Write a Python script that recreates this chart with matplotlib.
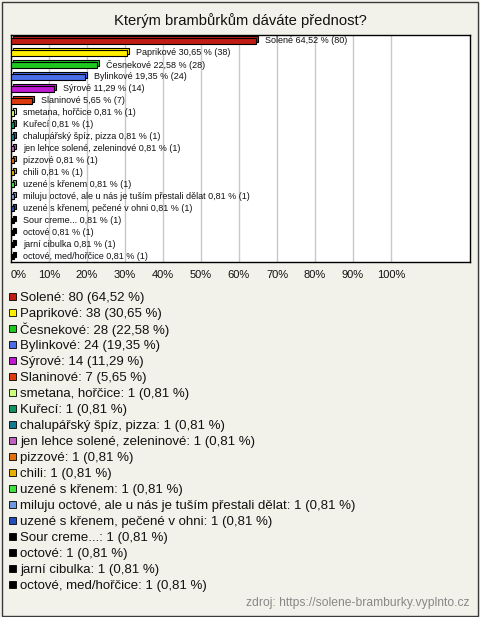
import matplotlib
matplotlib.use('Agg')
import matplotlib.pyplot as plt
import numpy as np
from matplotlib.patches import Rectangle
from matplotlib.transforms import offset_copy

plt.rcParams['font.family'] = ['Liberation Sans', 'DejaVu Sans']

title = "Kterým brambůrkům dáváte přednost?"
categories = ["Solené", "Paprikové", "Česnekové", "Bylinkové", "Sýrové", "Slaninové",
              "smetana, hořčice", "Kuřecí", "chalupářský špíz, pizza",
              "jen lehce solené, zeleninové", "pizzové", "chili", "uzené s křenem",
              "miluju octové, ale u nás je tuším přestali dělat",
              "uzené s křenem, pečené v ohni", "Sour creme...", "octové",
              "jarní cibulka", "octové, med/hořčice"]
counts = [80, 38, 28, 24, 14, 7, 1, 1, 1, 1, 1, 1, 1, 1, 1, 1, 1, 1, 1]
percents = [64.52, 30.65, 22.58, 19.35, 11.29, 5.65, 0.81, 0.81, 0.81, 0.81, 0.81,
            0.81, 0.81, 0.81, 0.81, 0.81, 0.81, 0.81, 0.81]
colors = ["#c01c14", "#ffee00", "#1ec81e", "#4a6ee8", "#c01ad0", "#dd3a0e",
          "#ccff80", "#119060", "#137a92", "#c060c0", "#e07010", "#e8b000",
          "#40e040", "#6e98e0", "#2250b8", "#000000", "#000000", "#000000", "#000000"]
xticks = [0, 10, 20, 30, 40, 50, 60, 70, 80, 90, 100]
xticklabels = [f"{t}%" for t in xticks]
source = "zdroj: https://solene-bramburky.vyplnto.cz"


def pct(p):
    return f"{p:.2f}".replace(".", ",")


BG = "#f3f2ea"
W, H = 480, 617
fig = plt.figure(figsize=(W / 100, H / 100), dpi=100, facecolor=BG)

# outer border
fig.patches.append(Rectangle((1.5 / W, 1.5 / H), 476.5 / W, 613.5 / H, fill=False,
                             ec="#3a3a3a", lw=1, transform=fig.transFigure))

fig.text(240 / W, 1 - 21 / H, title, ha="center", va="center", fontsize=10.6, color="#111111")

ax = fig.add_axes([11 / W, 1 - 262 / H, (470 - 11) / W, (262 - 35) / H])
ax.set_facecolor("white")
n = len(categories)
ypos = np.arange(n)

front = ax.barh(ypos, percents, height=0.42, color=colors, edgecolor="black",
                linewidth=0.8, zorder=4)
back = ax.barh(ypos, percents, height=0.42, color=colors, edgecolor="black",
               linewidth=0.8, zorder=3)
tr = offset_copy(ax.transData, fig=fig, x=2, y=2, units="dots")
for p in back.patches:
    p.set_transform(tr)

for i, (c, p, k) in enumerate(zip(categories, percents, counts)):
    lab = f"{c} {pct(p)} % ({k})"
    ax.annotate(lab, xy=(p, i), xytext=(9, 0), textcoords="offset pixels",
                ha="left", va="center", fontsize=6.5, color="#111111", zorder=5)

ax.set_xlim(0, 120.8)
ax.set_ylim(18.42, -0.5)
ax.set_yticks([])
ax.set_xticks(xticks)
ax.set_xticklabels(xticklabels, fontsize=8, color="#111111")
ax.tick_params(axis="x", length=0, pad=6)
ax.get_xticklabels()[0].set_ha("left")
ax.grid(axis="x", color="#c8c8c8", lw=1, zorder=0)
ax.set_axisbelow(True)
for s in ax.spines.values():
    s.set_color("black")
    s.set_linewidth(1)

# legend
for i, (c, k, p, col) in enumerate(zip(categories, counts, percents, colors)):
    yc = 298 + 16 * i
    fig.patches.append(Rectangle((9 / W, 1 - (yc + 1.5) / H), 7 / W, 7 / H,
                                 fc=col, ec="black", lw=0.6, transform=fig.transFigure))
    lab = f"{c}: {k} ({pct(p)} %)"
    fig.text(20 / W, 1 - yc / H, lab, ha="left", va="center", fontsize=9.5, color="#111111")

fig.text(470 / W, 1 - 603 / H, source, ha="right", va="center", fontsize=8.7, color="#888888")

fig.savefig("out.png", dpi=100, facecolor=BG)
